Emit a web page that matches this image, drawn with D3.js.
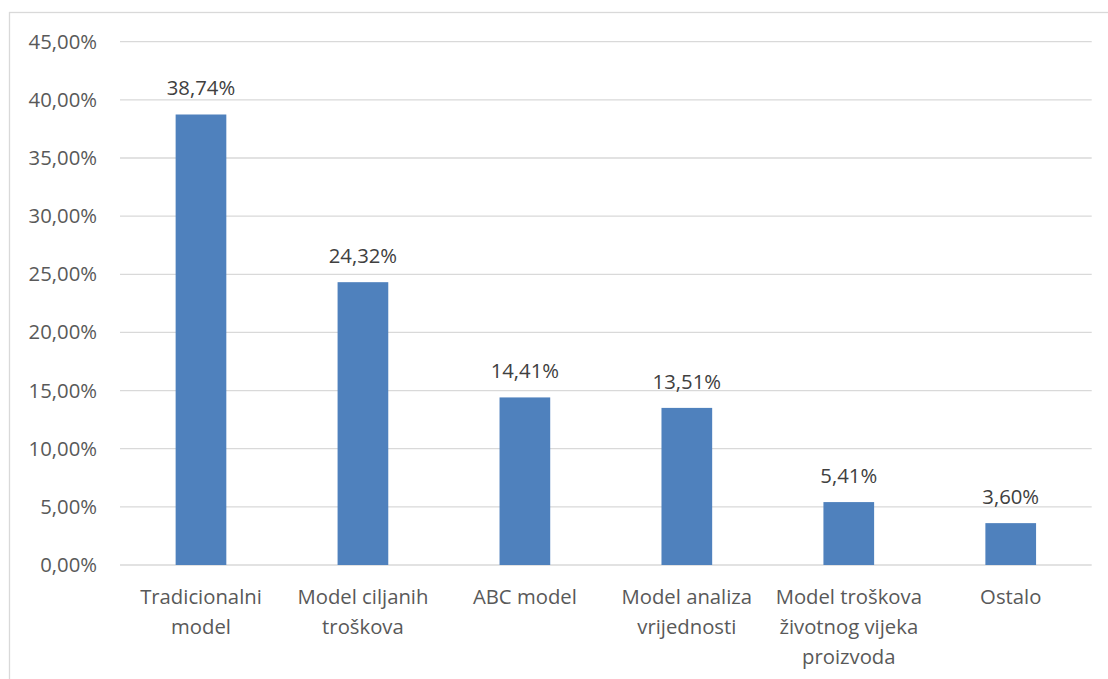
<!DOCTYPE html>
<html>
<head>
<meta charset="utf-8">
<script src="https://cdn.jsdelivr.net/npm/d3@7"></script>
<style>
  html, body { margin: 0; padding: 0; background: #fff; }
  svg { display: block; }
  text { font-family: "Open Sans", "Noto Sans", sans-serif; }
</style>
</head>
<body>
<svg id="chart" width="1108" height="679"></svg>
<script>
const categories = [
  "Tradicionalni\nmodel",
  "Model ciljanih\ntroškova",
  "ABC model",
  "Model analiza\nvrijednosti",
  "Model troškova\nživotnog vijeka\nproizvoda",
  "Ostalo"
];
const values = [38.74, 24.32, 14.41, 13.51, 5.41, 3.60];
const yTicks = [0, 5, 10, 15, 20, 25, 30, 35, 40, 45];

const W = 1108, H = 679;
const margin = { top: 41.7, right: 16.3, bottom: 114, left: 120 };
const FS = "20.3px";
const svg = d3.select("#chart");

// outer border
svg.append("rect")
  .attr("x", 9.5).attr("y", 12.5)
  .attr("width", W + 20).attr("height", H + 20)
  .attr("fill", "none").attr("stroke", "#d9d9d9").attr("stroke-width", 1.3);

const x = d3.scaleBand()
  .domain(categories)
  .range([margin.left, W - margin.right])
  .paddingInner(0.687).paddingOuter(0.3435);

const y = d3.scaleLinear()
  .domain([0, 45])
  .range([H - margin.bottom, margin.top]);

const fmt = v => v.toFixed(2).replace(".", ",") + "%";

// gridlines
svg.append("g").selectAll("line")
  .data(yTicks).join("line")
  .attr("x1", margin.left).attr("x2", W - margin.right)
  .attr("y1", d => y(d)).attr("y2", d => y(d))
  .attr("stroke", "#d9d9d9").attr("stroke-width", 1.3);

// y axis labels
const yAxis = d3.axisLeft(y).tickValues(yTicks).tickSize(0).tickPadding(23)
  .tickFormat(d => fmt(d));
const gy = svg.append("g").attr("transform", `translate(${margin.left},0)`).call(yAxis);
gy.select(".domain").remove();
gy.selectAll("text")
  .attr("fill", "#595959").attr("font-size", FS)
  .style("font-family", "'Open Sans', 'Noto Sans', sans-serif");

// bars
svg.append("g").selectAll("rect")
  .data(values).join("rect")
  .attr("x", (d, i) => x(categories[i]))
  .attr("width", x.bandwidth())
  .attr("y", d => y(d))
  .attr("height", d => y(0) - y(d))
  .attr("fill", "#4f81bd");

// value labels
svg.append("g").selectAll("text")
  .data(values).join("text")
  .attr("x", (d, i) => x(categories[i]) + x.bandwidth() / 2)
  .attr("y", d => y(d) - 19)
  .attr("text-anchor", "middle")
  .attr("fill", "#404040").attr("font-size", FS)
  .text(d => fmt(d));

// category labels
const xAxis = d3.axisBottom(x).tickSize(0).tickPadding(0);
const gx = svg.append("g").attr("transform", `translate(0,${y(0)})`).call(xAxis);
gx.select(".domain").remove();
gx.selectAll(".tick text").each(function (d) {
  const t = d3.select(this);
  t.text(null).attr("y", null).attr("dy", null)
    .attr("fill", "#595959").attr("font-size", FS)
    .style("font-family", "'Open Sans', 'Noto Sans', sans-serif");
  d.split("\n").forEach((line, i) => {
    t.append("tspan").attr("x", 0).attr("y", 39 + i * 30).text(line);
  });
});
</script>
</body>
</html>
